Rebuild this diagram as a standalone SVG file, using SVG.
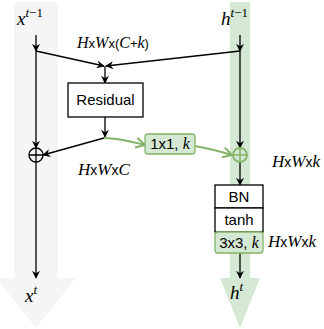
<svg xmlns="http://www.w3.org/2000/svg" width="324" height="329" viewBox="0 0 324 329">
<style>
.box{fill:#fff;stroke:#000;stroke-width:1.3}
.gbox{fill:#d5e8d4;stroke:#82b366;stroke-width:1.3}
.lbl{font-family:"Liberation Sans",Arial,sans-serif;font-size:15px;text-anchor:middle;fill:#000}
.m{font-family:"Liberation Serif","Times New Roman",serif;font-style:italic;fill:#000}
.n{font-style:normal;font-family:"Liberation Sans",Arial,sans-serif}
.ln{fill:none;stroke:#000;stroke-width:1.3}
.gl{fill:none;stroke:#82b366;stroke-width:2}
</style>
<defs>
<marker id="ab" viewBox="0 0 10 10" refX="9" refY="5" markerWidth="8" markerHeight="8" markerUnits="userSpaceOnUse" orient="auto">
<path d="M0,0 L10,5 L0,10 L3,5 z" fill="#000"/>
</marker>
<marker id="ag" viewBox="0 0 12 12" refX="10" refY="6" markerWidth="12" markerHeight="12" markerUnits="userSpaceOnUse" orient="auto">
<path d="M1,1 L10,6 L1,11" fill="none" stroke="#82b366" stroke-width="2"/>
</marker>
</defs>
<g id="band-x">
<path d="M14,2 H58 V278 H76 L36,328 L-4,278 H14 Z" fill="#f5f5f5"/>
</g>
<g id="band-h">
<path d="M230,2 H250 V278 H260 L240,328 L220,278 H230 Z" fill="#d5e8d4"/>
</g>
<g id="connectors">
<path class="ln" d="M36,35 V51" marker-end="url(#ab)"/>
<path class="ln" d="M240,35 V51" marker-end="url(#ab)"/>
<path class="ln" d="M36,51 L104,66" marker-end="url(#ab)"/>
<path class="ln" d="M240,51 L106,66" marker-end="url(#ab)"/>
<path class="ln" d="M105,66 V83" marker-end="url(#ab)"/>
<path class="ln" d="M36,51 V148" marker-end="url(#ab)"/>
<path class="ln" d="M105,117 V137" marker-end="url(#ab)"/>
<path class="ln" d="M104,138 L43,155" marker-end="url(#ab)"/>
<path class="ln" d="M240,51 V148" marker-end="url(#ab)"/>
<path class="ln" d="M240,162 V185" marker-end="url(#ab)"/>
<path class="ln" d="M36,162 V278" marker-end="url(#ab)"/>
<path class="ln" d="M240,253 V278" marker-end="url(#ab)"/>
<path class="gl" d="M104,138 Q118,138 145,145" marker-end="url(#ag)"/>
<path class="gl" d="M195,146 Q212,149 232,155" marker-end="url(#ag)"/>
</g>
<g id="label-xt1"><text class="m" x="17" y="25" font-size="19">x<tspan font-size="13" dy="-8">t</tspan><tspan font-size="13" font-style="normal">−1</tspan></text></g>
<g id="label-ht1"><text class="m" x="221" y="25" font-size="19">h<tspan font-size="13" dy="-8">t</tspan><tspan font-size="13" font-style="normal">−1</tspan></text></g>
<g id="label-xt"><text class="m" x="25" y="302" font-size="19">x<tspan font-size="13" dy="-8">t</tspan></text></g>
<g id="label-ht"><text class="m" x="230" y="299" font-size="19">h<tspan font-size="13" dy="-8">t</tspan></text></g>
<g id="dim1"><text class="m" x="77" y="48" font-size="16">H<tspan class="n" font-size="13">x</tspan>W<tspan class="n" font-size="13">x(</tspan>C<tspan class="n" font-size="13">+</tspan>k<tspan class="n" font-size="13">)</tspan></text></g>
<g id="dim2"><text class="m" x="78" y="175" font-size="17">H<tspan class="n" font-size="14">x</tspan>W<tspan class="n" font-size="14">x</tspan>C</text></g>
<g id="dim3"><text class="m" x="272" y="167" font-size="17">H<tspan class="n" font-size="14">x</tspan>W<tspan class="n" font-size="14">x</tspan>k</text></g>
<g id="dim4"><text class="m" x="268" y="247" font-size="17">H<tspan class="n" font-size="14">x</tspan>W<tspan class="n" font-size="14">x</tspan>k</text></g>
<g id="residual">
<rect class="box" x="68" y="83" width="75" height="34"/>
<text class="lbl" x="105.5" y="105">Residual</text>
</g>
<g id="conv1x1">
<rect class="gbox" x="145" y="134" width="50" height="20" rx="3"/>
<text class="lbl" x="170" y="149" font-size="14">1x1, <tspan class="m" font-size="16">k</tspan></text>
</g>
<g id="sum-left">
<circle cx="36" cy="155" r="7" fill="none" stroke="#000" stroke-width="1.3"/>
<path d="M29,155 H43 M36,148 V162" stroke="#000" stroke-width="1.3"/>
</g>
<g id="sum-right">
<circle cx="240" cy="155" r="7" fill="#d5e8d4" stroke="#82b366" stroke-width="1.8"/>
<path d="M233,155 H247 M240,148 V162" stroke="#82b366" stroke-width="1.5"/>
</g>
<g id="bn">
<rect class="box" x="215" y="185" width="48" height="23"/>
<text class="lbl" x="239" y="202">BN</text>
</g>
<g id="tanh">
<rect class="box" x="215" y="208" width="48" height="24"/>
<text class="lbl" x="239" y="225">tanh</text>
</g>
<g id="conv3x3">
<rect class="gbox" x="215" y="232" width="48" height="21" rx="3"/>
<text class="lbl" x="239" y="248" font-size="14">3x3, <tspan class="m" font-size="16">k</tspan></text>
</g>
</svg>
